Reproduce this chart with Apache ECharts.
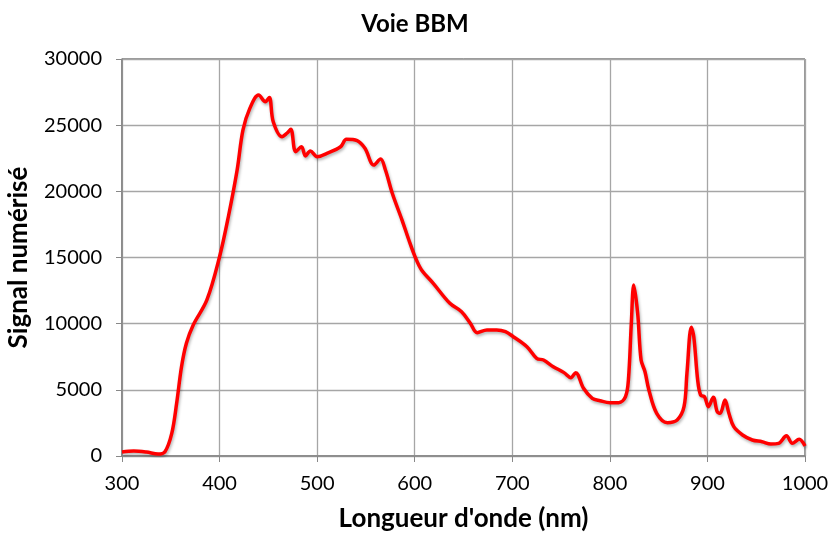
<!DOCTYPE html>
<html>
<head>
<meta charset="utf-8">
<script src="https://cdn.jsdelivr.net/npm/echarts@6/dist/echarts.min.js"></script>
<style>html,body{margin:0;padding:0;background:#fff}#c{width:830px;height:533px}</style>
</head>
<body>
<div id="c"></div>
<script>
const title = "Voie BBM";
const xName = "Longueur d'onde (nm)";
const yName = "Signal numérisé";
const wavelengths = [300,312,325,337,344,351,356,361,366,373,387,400,409,418,424,431,440,447,451,455,464,469,473,478,484,488,493,500,510,524,530,541,549,558,565,570,577,587,594,601,607,619,636,648,657,664,674,684,693,701,715,725,732,742,753,760,765,773,782,790,800,809,816,819,822,824.5,828.5,832,836,840,848,859,869,876,879,883.5,886,890,893,897,901,906,910,913,918,922,927,936,946,956,965,973,981,987,994,1000];
const signal = [300,380,300,150,325,1715,3980,6750,8520,9900,11790,15060,18080,21610,24640,26270,27280,26770,27100,25260,24130,24390,24690,23000,23370,22670,23050,22620,22870,23370,23930,23830,23250,21990,22440,21610,19850,17830,16320,14940,14060,13050,11540,10900,10030,9320,9520,9520,9395,9015,8260,7380,7250,6750,6300,5920,6300,5115,4360,4180,4030,4030,4480,5740,10030,12920,10780,7250,6370,4990,3225,2520,2720,3725,6250,9730,9020,5740,4610,4480,3725,4435,3350,3225,4230,3225,2215,1590,1210,1080,905,960,1535,960,1260,755];

const font = "Lato, 'Open Sans', sans-serif";
const chart = echarts.init(document.getElementById('c'), null, {renderer:'canvas'});
chart.setOption({
  animation:false,
  title:{text:title,left:'center',top:7,textStyle:{fontFamily:font,fontSize:24,fontWeight:'bold',color:'#000'}},
  grid:{left:122,right:25,top:59,bottom:77,outerBoundsMode:'none',containLabel:false,show:true,borderColor:'#333',borderWidth:1,backgroundColor:'transparent'},
  xAxis:{type:'value',min:300,max:1000,interval:100,
    name:xName,nameLocation:'middle',nameGap:50,
    nameTextStyle:{fontFamily:font,fontSize:26,fontWeight:'bold',color:'#000'},
    axisLine:{show:true,lineStyle:{color:'#888',width:1.5}},
    axisTick:{show:true,length:6,lineStyle:{color:'#888'}},
    axisLabel:{fontFamily:font,fontSize:20,color:'#000',margin:18,formatter:v=>String(v)},
    splitLine:{show:true,lineStyle:{color:'#a6a6a6',width:1.3}}},
  yAxis:{type:'value',min:0,max:30000,interval:5000,
    name:yName,nameLocation:'middle',nameGap:90,nameRotate:90,
    nameTextStyle:{fontFamily:font,fontSize:26,fontWeight:'bold',color:'#000'},
    axisLine:{show:true,lineStyle:{color:'#888',width:1.5}},
    axisTick:{show:true,length:6,lineStyle:{color:'#888'}},
    axisLabel:{fontFamily:font,fontSize:20,color:'#000',margin:20,formatter:v=>String(v)},
    splitLine:{show:true,lineStyle:{color:'#a6a6a6',width:1.3}}},
  series:[{type:'line',data:wavelengths.map((w,i)=>[w,signal[i]]),
    smooth:0.35,showSymbol:false,
    lineStyle:{color:'#ff0000',width:3.5,shadowColor:'rgba(0,0,0,0.3)',shadowBlur:3,shadowOffsetY:2,shadowOffsetX:1}}]
});
</script>
</body>
</html>
